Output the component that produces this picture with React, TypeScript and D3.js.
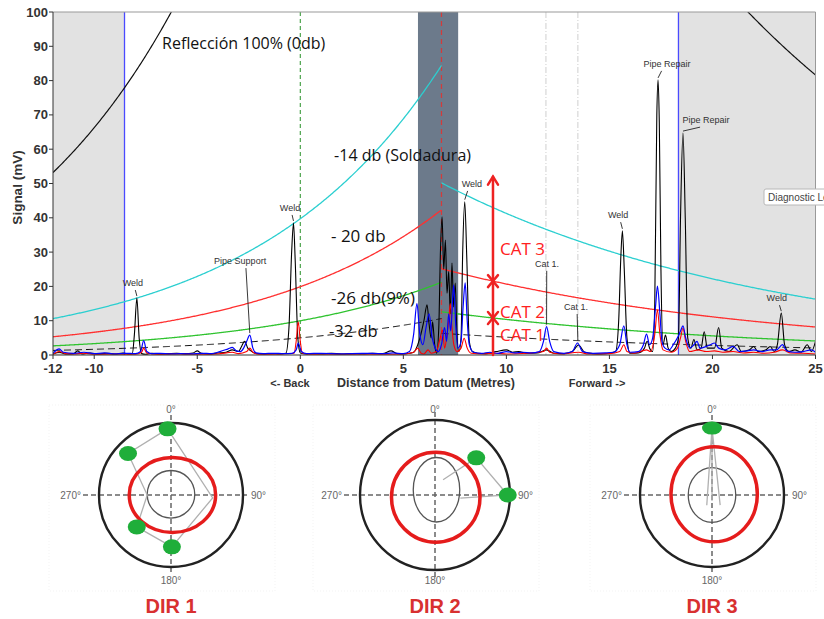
import React from 'react';
import * as d3 from 'd3';

// ---- axis ticks ----
const xTicks = [-12, -10, -5, 0, 5, 10, 15, 20, 25];
const yTicks = [0, 10, 20, 30, 40, 50, 60, 70, 80, 90, 100];

// ---- distance-amplitude (DAC) curve model ----
const datum = 6.85;            // weld reference position (m)
const dbLevels = [0, -14, -20, -26, -32];
const backRef = 423;           // 0 dB level at datum, backward side (mV)
const backAtten = 0.11;        // per metre
const fwdRef = 251.5;          // 0 dB level at datum, forward side (mV)
const fwdAtten = 0.062;        // per metre

// ---- zones (m) ----
const deadZoneBack = -8.53;
const deadZoneFwd = 18.35;
const nearField = [5.71, 7.66];
const catMarkers = [11.92, 13.47];

// ---- signal traces [distance m, mV] ----
const blackTrace: [number, number][] = [
  [-12, 0.3], [-11.7, 0.8], [-11.4, 0.3], [-11, 0.4], [-10.8, 1.2], [-10.6, 0.3], [-10.2, 0.6], [-9.8, 0.3],
  [-9.4, 0.5], [-9, 0.3], [-8.6, 0.6], [-8.3, 0.3], [-8.15, 0.4], [-8.05, 6], [-7.93, 16.6], [-7.82, 5],
  [-7.7, 0.4], [-7.5, 0.2], [-7.2, 0.5], [-6.8, 0.3], [-6.4, 0.4], [-6, 0.5], [-5.6, 0.4], [-5.2, 0.6],
  [-5.0, 1.2], [-4.8, 0.5], [-4.4, 0.3], [-4, 0.6], [-3.6, 0.8], [-3.3, 1.5], [-3.0, 1.0], [-2.85, 2.5],
  [-2.7, 4.0], [-2.55, 2], [-2.4, 1.2], [-2.2, 0.5], [-1.8, 0.3], [-1.4, 0.4], [-1.0, 0.3], [-0.7, 0.5],
  [-0.55, 8], [-0.42, 30], [-0.33, 38.5], [-0.25, 28], [-0.12, 5], [0, 0.6], [0.3, 0.3], [0.5, 0.4],
  [1, 0.3], [1.5, 0.5], [2, 0.3], [2.5, 0.4], [3, 0.3], [3.5, 0.5], [4, 0.4], [4.4, 1.2], [4.7, 0.4],
  [5.0, 0.3], [5.3, 0.5], [5.5, 0.8], [5.7, 3], [5.85, 6], [6.0, 10], [6.15, 14.6], [6.25, 9], [6.35, 5],
  [6.42, 9.7], [6.52, 3], [6.62, 0.5], [6.72, 8], [6.8, 30], [6.88, 40.3], [6.96, 25], [7.04, 33.5],
  [7.12, 18], [7.2, 24.3], [7.28, 12], [7.36, 26.8], [7.44, 14], [7.52, 21], [7.6, 6], [7.7, 1], [7.8, 5],
  [7.88, 30], [7.98, 44.7], [8.08, 28], [8.2, 4], [8.35, 1], [8.6, 0.5], [9, 0.4], [9.5, 1], [10, 1.5],
  [10.3, 0.8], [10.6, 1], [11, 0.5], [11.5, 0.6], [11.95, 1.5], [12.3, 0.5], [12.8, 0.4], [13.2, 1],
  [13.5, 2.9], [13.8, 0.8], [14.2, 0.4], [14.6, 0.3], [15.0, 0.5], [15.3, 1], [15.45, 10], [15.55, 28],
  [15.63, 36.2], [15.72, 25], [15.85, 5], [16.0, 0.5], [16.4, 0.6], [16.7, 2], [16.83, 4], [16.95, 2],
  [17.1, 1], [17.2, 15], [17.3, 70], [17.36, 80.2], [17.42, 68], [17.5, 25], [17.6, 3], [17.72, 5.8],
  [17.85, 2], [18.0, 1], [18.2, 2], [18.35, 5], [18.45, 40], [18.57, 64.7], [18.68, 40], [18.8, 5],
  [18.95, 2], [19.1, 4.5], [19.25, 1.5], [19.45, 2], [19.6, 6.8], [19.75, 2], [20.1, 2], [20.3, 8],
  [20.45, 2], [20.8, 1], [21.2, 3], [21.4, 1], [21.8, 1.5], [22, 2.5], [22.2, 1], [22.6, 1.5], [22.8, 2.5],
  [23.0, 1], [23.15, 3], [23.34, 12.2], [23.5, 3], [23.7, 1], [24, 1.5], [24.3, 0.8], [24.6, 3], [24.8, 1],
  [25, 4],
];

const redTrace: [number, number][] = [
  [-12, 0.2], [-11.7, 1], [-11.4, 0.4], [-11, 0.3], [-10.5, 0.5], [-10, 0.2], [-9, 0.3], [-8, 0.2],
  [-7.7, 0.8], [-7.6, 2], [-7.45, 0.6], [-7, 0.2], [-6, 0.3], [-5, 0.2], [-4, 0.3], [-3.3, 0.8], [-3, 0.4],
  [-2.6, 1], [-2.45, 2], [-2.3, 0.8], [-2, 0.2], [-1, 0.3], [-0.3, 0.5], [-0.2, 4], [-0.1, 9.7], [0.0, 4],
  [0.1, 0.5], [0.5, 0.2], [1, 0.3], [2, 0.2], [3, 0.3], [4, 0.2], [5, 0.3], [5.5, 0.8], [5.7, 2],
  [5.85, 0.6], [6.0, 0.3], [6.2, 1.5], [6.35, 0.5], [6.6, 1], [6.75, 4], [6.9, 7.3], [7.0, 2], [7.1, 5],
  [7.2, 10], [7.28, 15], [7.36, 8], [7.45, 3], [7.6, 1], [7.8, 2], [7.95, 4.9], [8.1, 2], [8.3, 0.5],
  [8.8, 0.3], [9.5, 0.5], [10, 0.3], [11, 0.5], [11.8, 1], [11.95, 2], [12.1, 0.8], [12.6, 0.3],
  [13.5, 0.8], [14, 0.3], [15, 0.4], [15.5, 1], [15.7, 3], [15.85, 1], [16.2, 0.5], [16.8, 1.5], [17.0, 1],
  [17.2, 6], [17.33, 13.1], [17.45, 6], [17.6, 1.5], [18, 0.8], [18.3, 2], [18.45, 5], [18.57, 7.8],
  [18.7, 4], [18.9, 1], [19.3, 1.5], [19.7, 1], [20.1, 1.2], [20.5, 0.8], [21, 1], [21.5, 0.6], [22, 0.8],
  [22.5, 0.5], [23, 0.8], [23.4, 1.5], [23.8, 0.6], [24.4, 0.5], [25, 0.3],
];

const blueTrace: [number, number][] = [
  [-12, 0.5], [-11.7, 1.8], [-11.5, 0.8], [-11, 0.5], [-10.5, 0.8], [-10, 0.4], [-9.5, 0.6], [-9, 0.3],
  [-8.5, 0.5], [-8, 0.4], [-7.75, 1], [-7.6, 4.2], [-7.45, 1], [-7.2, 0.4], [-6.8, 0.5], [-6.3, 0.3],
  [-5.8, 0.4], [-5.3, 0.3], [-4.8, 0.5], [-4.3, 0.4], [-3.9, 1], [-3.5, 1.8], [-3.3, 2.2], [-3.1, 1.2],
  [-2.9, 1], [-2.75, 2], [-2.6, 4], [-2.45, 5.8], [-2.3, 2], [-2.15, 0.6], [-1.8, 0.4], [-1.3, 0.5],
  [-0.8, 0.4], [-0.4, 0.5], [-0.2, 1.5], [-0.1, 3.5], [0.05, 1], [0.3, 0.4], [1, 0.5], [2, 0.3], [3, 0.5],
  [4, 0.4], [4.5, 0.6], [5.0, 0.4], [5.3, 1], [5.5, 6], [5.66, 15], [5.8, 6], [5.95, 3], [6.1, 8],
  [6.25, 12], [6.4, 5], [6.55, 2], [6.7, 1], [6.85, 3], [7.0, 8], [7.1, 4], [7.2, 12], [7.3, 7],
  [7.44, 20.4], [7.55, 8], [7.65, 2], [7.8, 4], [7.9, 14], [8.0, 21], [8.1, 10], [8.2, 3], [8.4, 0.8],
  [8.8, 0.5], [9.2, 0.8], [9.6, 0.5], [10, 1], [10.4, 0.6], [10.8, 0.8], [11.2, 0.6], [11.6, 1],
  [11.8, 4], [11.95, 8.3], [12.1, 4], [12.3, 1], [12.8, 0.5], [13.2, 1], [13.45, 3.5], [13.7, 1],
  [14.2, 0.5], [14.8, 0.6], [15.2, 0.8], [15.5, 3], [15.7, 8.5], [15.85, 3], [16.0, 0.8], [16.4, 1],
  [16.65, 3], [16.8, 6.1], [16.95, 3], [17.1, 5], [17.25, 15], [17.33, 20.1], [17.45, 12], [17.55, 4],
  [17.7, 2], [17.9, 1.5], [18.1, 3], [18.3, 5], [18.45, 7], [18.57, 8.5], [18.7, 5], [18.9, 2], [19.1, 3],
  [19.25, 4], [19.4, 2], [19.7, 2.5], [19.9, 3], [20.1, 3.5], [20.3, 2], [20.6, 1.5], [21, 2.5], [21.3, 1],
  [21.7, 1.2], [22.0, 1.5], [22.4, 1], [22.8, 1.5], [23.1, 1.5], [23.4, 3], [23.6, 1.2], [24, 0.8],
  [24.4, 1], [24.8, 1.5], [25, 0.8],
];

// ---- feature call-outs: peak (x, y) and label anchor (lx, ly) in data units ----
const features = [
  { text: 'Weld', x: -7.93, y: 16.6, lx: -8.12, ly: 20.1 },
  { text: 'Pipe Support', x: -2.45, y: 5.8, lx: -2.92, ly: 26.5 },
  { text: 'Weld', x: -0.33, y: 38.5, lx: -0.5, ly: 42.0 },
  { text: 'Weld', x: 7.98, y: 44.7, lx: 8.33, ly: 49.0 },
  { text: 'Cat 1.', x: 11.95, y: 8.3, lx: 11.97, ly: 25.7 },
  { text: 'Cat 1.', x: 13.47, y: 3.5, lx: 13.38, ly: 13.1 },
  { text: 'Weld', x: 15.63, y: 36.2, lx: 15.42, ly: 39.9 },
  { text: 'Pipe Repair', x: 17.36, y: 80.2, lx: 17.79, ly: 84 },
  { text: 'Pipe Repair', x: 18.57, y: 64.7, lx: 19.69, ly: 67.6 },
  { text: 'Weld', x: 23.34, y: 12.2, lx: 23.12, ly: 15.7 },
];

// ---- curve captions (x start, baseline in data units) ----
const dbCaptions = [
  { text: 'Reflección 100% (0db)', x: -6.71, y: 89.2, size: 16 },
  { text: '-14 db (Soldadura)', x: 1.64, y: 56.6, size: 16 },
  { text: '- 20 db', x: 1.49, y: 32.9, size: 17 },
  { text: '-26 db(9%)', x: 1.49, y: 14.9, size: 17 },
  { text: '-32 db', x: 1.39, y: 5.2, size: 16.5 },
];

// ---- severity categories ----
const catArrowX = 9.35;
const catArrowTop = 52;
const catBounds = [-20, -26];
const catLabels = [
  { text: 'CAT 3', y: 29.2 },
  { text: 'CAT 2', y: 10.8 },
  { text: 'CAT 1', y: 4.1 },
];
const catLabelX = 9.69;

// ---- polar (direction) plots: [angle deg clockwise from 0°, radius fraction] ----
const dir1Hits: [number, number][] = [[357, 0.92], [314, 0.83], [227, 0.65], [179, 0.72]];
const dir1Trace: [number, number][] = [[357, 0.92], [94, 0.58], [179, 0.72], [227, 0.65], [270, 0.33], [314, 0.83], [357, 0.92]];
const dir2Hits: [number, number][] = [[48, 0.74], [90, 0.97]];
const dir2Trace: [number, number][] = [[28, 0.23], [48, 0.74], [90, 0.97], [97, 0.34]];
const dir3Hits: [number, number][] = [[0, 0.93]];
const dir3Trace: [number, number][] = [[207, 0.16], [0, 0.93], [141, 0.18], [0, 0.93], [180, 0.08]];

const W = 824;
const H = 619;
const plot = { left: 53, right: 815.5, top: 12, bottom: 355 };

const x = d3.scaleLinear().domain([-12, 25]).range([plot.left, plot.right]);
const y = d3.scaleLinear().domain([0, 100]).range([plot.bottom, plot.top]);

const traceLine = d3
  .line<[number, number]>()
  .x((d) => x(d[0]))
  .y((d) => y(d[1]))
  .curve(d3.curveMonotoneX);

const smoothLine = d3
  .line<[number, number]>()
  .x((d) => x(d[0]))
  .y((d) => y(d[1]));

// DAC level on the backward (toward -x) or forward side of the datum
const dacBack = (db: number, d: number) => backRef * Math.pow(10, db / 20) * Math.exp(-backAtten * (datum - d));
const dacFwd = (db: number, d: number) => fwdRef * Math.pow(10, db / 20) * Math.exp(-fwdAtten * (d - datum));

const dacStyle: Record<number, { stroke: string; dash?: string; width: number }> = {
  0: { stroke: '#111', width: 1.2 },
  [-14]: { stroke: '#2ccfd0', width: 1.3 },
  [-20]: { stroke: '#ff3030', width: 1.3 },
  [-26]: { stroke: '#2fc32f', width: 1.3 },
  [-32]: { stroke: '#111', dash: '7,4', width: 1 },
};

const backSamples = d3.range(-12, datum, 0.05).concat([datum]);
const fwdSamples = [datum].concat(d3.range(datum + 0.05, 25, 0.05)).concat([25]);

const labelFont = 'Liberation Sans, Arial, sans-serif';
const captionFont = 'Open Sans, Noto Sans, sans-serif';

function Polar({ cx, cy, R, hits, trace, red, inner, label, hitRx, hitRy }: any) {
  const pt = (a: number, r: number): [number, number] => {
    const t = (a * Math.PI) / 180;
    return [cx + r * R * Math.sin(t), cy - r * R * Math.cos(t)];
  };
  const path = d3.line()(trace.map((d: [number, number]) => pt(d[0], d[1])));
  return (
    <g>
      <rect x={cx - 122} y={cy - 90} width={226} height={186} fill="none" stroke="#f3f3f3" strokeDasharray="1,2" />
      <line x1={cx - R - 16} x2={cx + R + 4} y1={cy} y2={cy} stroke="#666" strokeWidth={1.5} strokeDasharray="5,3" />
      <line x1={cx} x2={cx} y1={cy - R - 8} y2={cy + R + 8} stroke="#666" strokeWidth={1.5} strokeDasharray="5,3" />
      <circle cx={cx} cy={cy} r={R} fill="none" stroke="#222" strokeWidth={2.4} />
      <ellipse cx={cx + inner.dx * R} cy={cy + inner.dy * R} rx={inner.rx * R} ry={inner.ry * R} fill="none" stroke="#555" strokeWidth={1.3} />
      <path d={path || ''} fill="none" stroke="#b0b0b0" strokeWidth={1.3} />
      <ellipse cx={cx + red.dx * R} cy={cy + red.dy * R} rx={red.rx * R} ry={red.ry * R} fill="none" stroke="#e51c1c" strokeWidth={3.5} />
      {hits.map((d: [number, number], i: number) => {
        const [px, py] = pt(d[0], d[1]);
        return <ellipse key={i} cx={px} cy={py} rx={hitRx} ry={hitRy} fill="#1fae3a" />;
      })}
      <g fontFamily={labelFont} fontSize={10} fill="#666">
        <text x={cx} y={cy - 82} textAnchor="middle">0°</text>
        <text x={cx} y={cy + 89} textAnchor="middle">180°</text>
        <text x={cx + R + 8} y={cy + 4}>90°</text>
        <text x={cx - R - 18} y={cy + 4} textAnchor="end">270°</text>
      </g>
      <text x={cx} y={613} textAnchor="middle" fontFamily={labelFont} fontWeight="bold" fontSize={20} fill="#d83030">
        {label}
      </text>
    </g>
  );
}

export default function App() {
  return (
    <svg width={W} height={H} style={{ position: 'absolute', left: 0, top: 0, background: '#fff' }}>
      <defs>
        <clipPath id="plotClip">
          <rect x={plot.left} y={plot.top} width={plot.right - plot.left} height={plot.bottom - plot.top} />
        </clipPath>
        <clipPath id="tipClip">
          <rect x={0} y={0} width={W} height={H} />
        </clipPath>
      </defs>

      <g clipPath="url(#plotClip)">
        {/* blind zones */}
        <rect x={x(-12)} y={plot.top} width={x(deadZoneBack) - x(-12)} height={plot.bottom - plot.top} fill="#e2e2e2" />
        <rect x={x(deadZoneFwd)} y={plot.top} width={x(25) - x(deadZoneFwd)} height={plot.bottom - plot.top} fill="#e2e2e2" />
        {/* near-field band */}
        <rect x={x(nearField[0])} y={plot.top} width={x(nearField[1]) - x(nearField[0])} height={plot.bottom - plot.top} fill="#6c7a8b" />

        {/* markers */}
        {catMarkers.map((m) => (
          <line key={m} x1={x(m)} x2={x(m)} y1={plot.top} y2={plot.bottom} stroke="#cfcfcf" strokeDasharray="6,2,1,2" />
        ))}
        <line x1={x(0)} x2={x(0)} y1={plot.top} y2={plot.bottom} stroke="#3a9a3a" strokeWidth={1.1} strokeDasharray="4,3" />
        <line x1={x(datum)} x2={x(datum)} y1={plot.top} y2={plot.bottom} stroke="#d43a3a" strokeWidth={1.2} strokeDasharray="5,4" />
        <line x1={x(deadZoneBack)} x2={x(deadZoneBack)} y1={plot.top} y2={plot.bottom} stroke="#4a4aff" strokeWidth={1.3} />
        <line x1={x(deadZoneFwd)} x2={x(deadZoneFwd)} y1={plot.top} y2={plot.bottom} stroke="#4a4aff" strokeWidth={1.3} />

        {/* DAC curves */}
        {dbLevels.map((db) => {
          const s = dacStyle[db];
          const back = smoothLine(backSamples.map((d) => [d, dacBack(db, d)] as [number, number]));
          const fwd = smoothLine(fwdSamples.map((d) => [d, dacFwd(db, d)] as [number, number]));
          return (
            <g key={db} fill="none" stroke={s.stroke} strokeWidth={s.width} strokeDasharray={s.dash}>
              <path d={back || ''} />
              <path d={fwd || ''} />
            </g>
          );
        })}

        {/* signal traces */}
        <path d={traceLine(blackTrace) || ''} fill="none" stroke="#000" strokeWidth={1.1} />
        <path d={traceLine(redTrace) || ''} fill="none" stroke="#ff0000" strokeWidth={1.1} />
        <path d={traceLine(blueTrace) || ''} fill="none" stroke="#0000ff" strokeWidth={1.2} />
      </g>

      {/* frame */}
      <line x1={plot.left} x2={plot.right} y1={plot.top} y2={plot.top} stroke="#999" />
      <line x1={plot.right} x2={plot.right} y1={plot.top} y2={plot.bottom} stroke="#999" />
      <line x1={plot.left} x2={plot.left} y1={plot.top} y2={plot.bottom} stroke="#333" />
      <line x1={plot.left} x2={plot.right} y1={plot.bottom} y2={plot.bottom} stroke="#333" />

      {/* y axis */}
      {yTicks.map((t) => (
        <g key={t}>
          <line x1={plot.left - 4} x2={plot.left} y1={y(t)} y2={y(t)} stroke="#333" />
          <text x={plot.left - 5} y={y(t) + 4.5} textAnchor="end" fontFamily={labelFont} fontWeight="bold" fontSize={13} fill="#333">
            {t}
          </text>
        </g>
      ))}
      <text
        transform={`translate(22,${(plot.top + plot.bottom) / 2 + 4}) rotate(-90)`}
        textAnchor="middle"
        fontFamily={labelFont}
        fontWeight="bold"
        fontSize={13.5}
        fill="#333"
      >
        Signal (mV)
      </text>

      {/* x axis */}
      {xTicks.map((t) => (
        <g key={t}>
          <line x1={x(t)} x2={x(t)} y1={plot.bottom} y2={plot.bottom + 4} stroke="#333" />
          <text x={x(t)} y={plot.bottom + 18} textAnchor="middle" fontFamily={labelFont} fontWeight="bold" fontSize={13} fill="#333">
            {t}
          </text>
        </g>
      ))}
      <g fontFamily={labelFont} fontWeight="bold" fontSize={11} fill="#333">
        <text x={x(-0.5)} y={387} textAnchor="middle">&lt;- Back</text>
        <text x={x(6.1)} y={387} textAnchor="middle" fontSize={12.5}>Distance from Datum (Metres)</text>
        <text x={x(14.4)} y={387} textAnchor="middle">Forward -&gt;</text>
      </g>

      {/* feature call-outs */}
      {features.map((f, i) => {
        const lx = x(f.lx);
        const ly = y(f.ly);
        const px = x(f.x);
        const py = y(f.y);
        const sx = lx + Math.max(-10, Math.min(10, px - lx)) * 0.6;
        return (
          <g key={i}>
            <line x1={sx} y1={ly + 4} x2={px} y2={py - 2} stroke="#222" strokeWidth={0.9} />
            <text x={lx} y={ly} textAnchor="middle" fontFamily={labelFont} fontSize={9} fill="#333">
              {f.text}
            </text>
          </g>
        );
      })}

      {/* DAC captions */}
      {dbCaptions.map((c, i) => (
        <text key={i} x={x(c.x)} y={y(c.y)} fontFamily={captionFont} fontSize={c.size} fill="#111">
          {c.text}
        </text>
      ))}

      {/* category arrow */}
      <g stroke="#ee2222" strokeWidth={2.5} fill="none" strokeLinecap="round">
        <line x1={x(catArrowX)} x2={x(catArrowX)} y1={y(0)} y2={y(catArrowTop)} />
        <polyline
          points={`${x(catArrowX) - 5},${y(catArrowTop) + 8} ${x(catArrowX)},${y(catArrowTop)} ${x(catArrowX) + 5},${y(catArrowTop) + 8}`}
        />
        {catBounds.map((db) => {
          const cx = x(catArrowX);
          const cy = y(dacFwd(db, catArrowX));
          return (
            <g key={db}>
              <polyline points={`${cx - 5},${cy + 6} ${cx},${cy} ${cx + 5},${cy + 6}`} />
              <polyline points={`${cx - 5},${cy - 6} ${cx},${cy} ${cx + 5},${cy - 6}`} />
            </g>
          );
        })}
      </g>
      {catLabels.map((c) => (
        <text key={c.text} x={x(catLabelX)} y={y(c.y)} fontFamily={captionFont} fontSize={17} fill="#ff2020">
          {c.text}
        </text>
      ))}

      {/* tooltip, running past the right edge */}
      <g clipPath="url(#tipClip)">
        <rect x={764} y={189} width={80} height={16} rx={2} fill="#fff" stroke="#b8b8b8" />
        <text x={768} y={201} fontFamily={labelFont} fontSize={10} fill="#444">
          Diagnostic Level
        </text>
      </g>

      {/* direction plots */}
      <Polar
        cx={171} cy={495} R={72}
        hits={dir1Hits} trace={dir1Trace}
        red={{ dx: 0.02, dy: 0, rx: 0.6, ry: 0.52 }}
        inner={{ dx: 0, dy: -0.01, rx: 0.33, ry: 0.33 }}
        hitRx={9} hitRy={7.5} label="DIR 1"
      />
      <Polar
        cx={435} cy={495} R={75}
        hits={dir2Hits} trace={dir2Trace}
        red={{ dx: 0.01, dy: 0.03, rx: 0.59, ry: 0.6 }}
        inner={{ dx: 0.02, dy: -0.07, rx: 0.31, ry: 0.43 }}
        hitRx={9} hitRy={7.5} label="DIR 2"
      />
      <Polar
        cx={712} cy={495} R={72}
        hits={dir3Hits} trace={dir3Trace}
        red={{ dx: 0.03, dy: -0.01, rx: 0.6, ry: 0.66 }}
        inner={{ dx: 0, dy: 0, rx: 0.33, ry: 0.38 }}
        hitRx={10} hitRy={6.5} label="DIR 3"
      />
    </svg>
  );
}
